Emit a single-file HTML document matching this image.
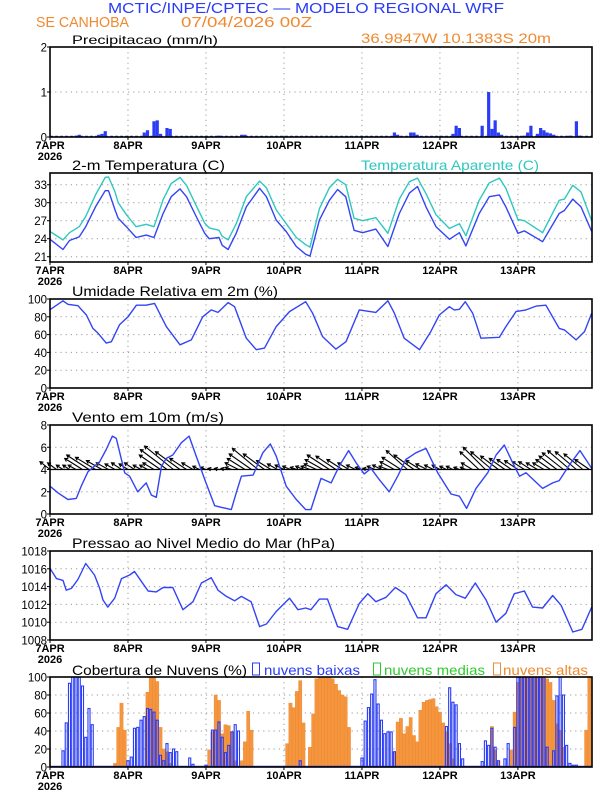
<!DOCTYPE html>
<html><head><meta charset="utf-8"><style>
html,body{margin:0;padding:0;background:#fff}
svg{display:block}
text{font-family:"Liberation Sans",sans-serif}
.tl{font-size:12px;fill:#000}
.tk{font-size:11px;fill:#000;font-weight:bold}
.yt{font-size:11.5px;fill:#000;text-anchor:end}
</style></head><body>
<svg id="chart" width="612" height="792" viewBox="0 0 612 792" xmlns="http://www.w3.org/2000/svg">
<rect x="0" y="0" width="612" height="792" fill="#fff"/>
<text x="108" y="13" fill="#2a3cf5" font-size="15" textLength="396" lengthAdjust="spacingAndGlyphs">MCTIC/INPE/CPTEC — MODELO REGIONAL WRF</text>
<text x="36" y="27" fill="#f08a30" font-size="15" textLength="93" lengthAdjust="spacingAndGlyphs">SE CANHOBA</text>
<text x="181" y="27" fill="#f08a30" font-size="15" textLength="131" lengthAdjust="spacingAndGlyphs">07/04/2026 00Z</text>
<text x="361" y="43" fill="#f08a30" font-size="14" textLength="190" lengthAdjust="spacingAndGlyphs">36.9847W 10.1383S 20m</text>
<text x="72" y="44" class="tl" font-size="14" textLength="146" lengthAdjust="spacingAndGlyphs">Precipitacao (mm/h)</text>
<text x="72" y="170" font-size="14" textLength="153" lengthAdjust="spacingAndGlyphs">2-m Temperatura (C)</text>
<text x="361" y="170" fill="#2ec8c0" font-size="14" textLength="178" lengthAdjust="spacingAndGlyphs">Temperatura Aparente (C)</text>
<text x="72" y="296" font-size="14" textLength="206" lengthAdjust="spacingAndGlyphs">Umidade Relativa em 2m (%)</text>
<text x="72" y="422" font-size="14" textLength="152" lengthAdjust="spacingAndGlyphs">Vento em 10m (m/s)</text>
<text x="72" y="548" font-size="14" textLength="263" lengthAdjust="spacingAndGlyphs">Pressao ao Nivel Medio do Mar (hPa)</text>
<text x="72" y="675" font-size="14" textLength="175" lengthAdjust="spacingAndGlyphs">Cobertura de Nuvens (%)</text>
<rect x="252.5" y="663" width="7" height="12" fill="none" stroke="#2a3cf5" stroke-width="1"/>
<text x="264" y="675" fill="#2a3cf5" font-size="14" textLength="96" lengthAdjust="spacingAndGlyphs">nuvens baixas</text>
<rect x="373.5" y="663" width="7" height="12" fill="none" stroke="#2ecc2e" stroke-width="1"/>
<text x="384" y="675" fill="#2ecc2e" font-size="14" textLength="101" lengthAdjust="spacingAndGlyphs">nuvens medias</text>
<rect x="493.5" y="663" width="7" height="12" fill="none" stroke="#f08a30" stroke-width="1"/>
<text x="503" y="675" fill="#f08a30" font-size="14" textLength="85" lengthAdjust="spacingAndGlyphs">nuvens altas</text>
</svg>
<script>
// ---------- data ----------
const dayLabels = ["7APR","8APR","9APR","10APR","11APR","12APR","13APR"];
const yearLabel = "2026";

const precipHours = [8,9,15,16,17,29,30,32,33,34,36,37,52,59,60,106,107,111,112,113,124,125,126,133,135,136,137,138,139,146,147,148,150,151,152,153,154,155,160,162,163];
const precipValues = [0.03,0.05,0.05,0.07,0.13,0.1,0.15,0.35,0.37,0.07,0.2,0.18,0.03,0.05,0.05,0.1,0.05,0.1,0.1,0.05,0.07,0.25,0.2,0.25,1.0,0.18,0.37,0.1,0.05,0.03,0.1,0.25,0.07,0.2,0.15,0.1,0.08,0.05,0.03,0.35,0.03];

const tempHours = [0,4,6,9,11,14,17,18,20,21,23.5,26.5,29.6,32,34.8,37.3,40,42,45,47.6,49,52,53,54.8,57.3,60.4,64.5,66.6,69.6,72.7,75.8,78.7,80,82.9,86,88.5,91,93.6,96.2,100.3,104,107.5,110.6,113.1,115.7,118.8,122.9,126,128,132.1,135.2,138.3,140.3,144,146,151.6,156.7,158.3,160.9,163.4,166.7];
const tempValues = [23.9,22.2,23.7,24.3,26,29.3,32,32,28.8,27.4,26,24.2,24.6,24.2,28.2,31,32.3,31,27.7,24.9,24,24.2,22.9,22.2,24.9,29.3,32.4,31,27.1,25.2,22.7,21.4,21.1,27.1,30.4,32.2,31,25.4,25,25.6,22.7,28.2,31.6,32.7,29.3,26,23.9,25,22.8,28.2,31,31.3,29.3,24.9,25.3,23.5,28.2,28.7,30.6,29.3,25.2];
const apparentValues = [25.2,23.8,25,26,27.7,31.3,34.2,34.3,31.8,30,28,26,26.4,26,30.5,33.2,34.2,32.9,29.5,26.6,25.8,25.4,24.4,23.8,26.5,31,33.6,32.5,28.8,26.5,24.2,23,22.6,29,32.5,33.9,33,27.4,27,27.5,24.9,30.6,33.5,34.1,31.5,28,25.7,26.5,24.5,30.4,33.3,34.1,32.4,27.2,27,25,30.4,30.6,32.9,31.8,27];

const rhHours = [0,4,5.5,8.6,11.2,13.2,14.8,17.3,18.9,21.4,24,26.6,29.6,32.2,35.8,40,43.5,47,49.6,51.7,54.8,56.8,60.4,63.5,66,69.6,73.7,78.7,80.8,83.9,88,91.1,95.2,100.3,104,106,109,113.7,117.2,119.8,122.9,124.4,126,127.8,130.1,132.6,138.3,140.3,143.4,146.5,149.6,152.6,156.7,158.3,161.9,164.5,166.7];
const rhValues = [88,98,94,92.5,82,67,61.5,50.4,52,71,80,93,93,95,69,48.5,54,80,87.7,85,96,91.4,56,43,44.8,69,85.8,97,84,57.8,43.7,52,87.7,85,98,84,56,43,63.4,82,91.4,87.7,88.4,97,84,56,57,69,85.8,87.7,92,93,67,65.3,54,63.4,84];

const windHours = [0,2.5,5.5,8.1,9.6,11.7,15.3,17.3,19.2,20.4,23,24.5,27,29.6,31.2,32.7,34.3,35.8,37.8,40.4,42.8,45,48,50.7,52.7,55.8,57.3,58.9,62.5,65.5,67.8,69.6,72.7,75.8,78.7,80.3,83.4,86.5,89,91.9,94.2,96.7,98.8,101.3,104.4,107,109.5,112.6,115.7,119.3,123.4,126,128.2,131.1,134.7,137.3,139.8,142.4,144.5,146.5,151.6,154.7,156.7,159.8,163.1,166.7];
const windSpeed = [2.5,1.9,1.3,1.4,2.5,3.8,4.7,5.8,7,6.8,3.7,3.4,2,2.8,1.7,1.5,4.3,5,5.3,6.4,7,5.2,2.8,0.75,0.6,0.4,1.9,3.4,3.5,5.5,6.3,5.2,2.5,1.3,0.4,0.4,3.2,2.8,4.3,5.7,4.6,3.6,4.1,3.1,2,3.4,4.9,5.5,5.9,3.7,1.8,1.6,0.5,2.3,3.7,5.3,6.2,4.6,3.4,3.7,2.3,2.8,3,4.4,5.7,4.1];
// wind vectors every 2 h starting at 0 h (m/s components, drawn from the 4 m/s line)
const windU = [-0.9,-0.8,-0.6,-0.6,-0.7,-1.6,-2.0,-1.8,-1.4,-1.1,-0.9,-0.9,
 -0.8,-0.9,-0.7,-0.7,-1.0,-1.9,-2.4,-2.6,-2.2,-1.5,-1.0,-0.6,
 -0.5,-0.4,-0.4,-0.4,-0.6,-1.2,-1.6,-2.0,-2.3,-1.9,-1.3,-0.9,
 -0.8,-0.7,-0.6,-0.7,-0.8,-1.1,-1.6,-2.0,-1.8,-1.4,-1.0,-0.8,
 -0.6,-0.5,-0.7,-0.8,-0.8,-1.3,-1.7,-1.9,-1.8,-1.3,-1.0,-0.8,
 -0.7,-0.6,-0.6,-0.5,-0.5,-1.0,-1.7,-2.0,-1.9,-1.6,-1.4,-1.3,
 -1.2,-1.1,-1.1,-1.0,-1.0,-1.3,-1.6,-1.9,-2.0,-1.9,-1.7,-1.3];
const windV = [0.7,0.6,0.4,0.4,0.4,1.0,1.3,1.1,0.8,0.6,0.5,0.6,
 0.5,0.6,0.4,0.4,0.6,1.3,1.8,2.1,1.6,1.0,0.6,0.3,
 0.2,0.1,0.1,0.1,0.2,0.6,1.0,1.4,1.9,1.4,0.8,0.5,
 0.4,0.3,0.2,0.3,0.3,0.5,0.9,1.3,1.2,0.9,0.6,0.4,
 0.2,0.1,0.3,0.4,0.3,0.7,1.1,1.7,1.3,0.8,0.5,0.4,
 0.4,0.3,0.3,0.2,0.2,0.6,1.6,2.0,1.6,1.2,1.0,0.9,
 0.8,0.7,0.7,0.6,0.6,0.9,1.2,1.5,1.7,1.6,1.4,0.9];

const presHours = [0,2,4,5,6.6,8.6,11,13.7,15.3,16.3,17.8,19.9,22,24.5,26,28.1,30.2,32.7,34.8,37.8,40.9,44,46.6,49.6,51.7,54.3,56.8,58.9,61.9,64.5,66.6,69.6,73.7,76.3,78.7,80.3,82.9,85.4,88.5,91.6,95.2,97.8,100.3,103.4,106.3,109.5,113.1,115.7,118.8,121.9,124.9,127.8,130.9,134.2,137.3,140.3,142.9,146,148.5,151.6,154.7,157.3,160.9,163.7,166.7];
const presValues = [1016.05,1014.9,1014.7,1013.6,1013.8,1014.8,1016.6,1015.3,1013.8,1012.5,1011.7,1012.7,1014.9,1015.3,1015.7,1014.6,1013.5,1013.4,1013.9,1013.9,1011.4,1012.3,1014.4,1015,1013.6,1012.9,1012.4,1012.9,1012.3,1009.5,1009.8,1011.2,1012.7,1011.4,1011.6,1011.4,1012.6,1012.6,1009.5,1009.2,1012.1,1013.2,1012.3,1012.8,1013.9,1013.1,1010.5,1010.5,1013.2,1014.2,1013.1,1012.7,1014.4,1012.5,1010,1011,1013.2,1013.5,1011.7,1011.6,1013,1011.9,1008.9,1009.2,1011.7];

const lowCloudHours = [4,5,6,7,8,9,10,11,12,13,24,25,26,27,28,29,30,31,32,33,34,35,36,37,38,39,43,44,48,50,51,52,53,54,55,56,57,58,77,96,97,98,99,100,101,102,103,104,105,106,122,123,124,125,126,127,133,134,135,136,137,138,140,141,143,144,145,146,147,148,149,150,151,152,153,155,156,157,158,159,160,161,162];
const lowCloudValues = [18,49,93,100,100,100,90,33,65,47,7,11,43,44,52,56,65,64,61,52,13,7,26,16,20,17,10,3,2,41,41,50,33,16,24,39,47,40,7,10,51,66,81,97,70,52,37,39,39,17,45,88,72,69,26,9,6,29,24,43,22,7,9,26,44,100,100,100,100,100,100,100,100,100,22,18,79,100,80,24,4,2,2];
const highCloudHours = [20,21,22,23,30,31,32,33,34,35,36,37,49,50,51,52,53,54,55,56,57,59,60,61,62,73,74,75,76,77,78,80,81,82,83,84,85,86,87,88,89,90,91,92,106,107,108,109,110,111,112,113,114,115,116,117,118,119,120,121,122,123,124,136,137,138,142,143,144,145,146,147,148,149,150,151,152,153,154,155,156,157,158,165,166];
const highCloudValues = [4,44,71,41,83,100,100,95,44,20,17,4,19,39,80,74,37,47,46,39,7,7,28,62,41,26,71,66,84,96,49,22,59,98,100,100,100,100,98,92,85,80,78,44,17,50,54,37,45,55,35,28,63,72,74,75,76,67,61,49,39,26,9,45,19,7,19,61,94,100,100,100,100,100,100,100,100,98,94,74,48,41,22,41,100];

// ---------- layout ----------
const X0 = 50, X1 = 592, HMAX = 166.8;
function xOf(h){ return X0 + (X1 - X0) * h / HMAX; }
function yScale(p){ return v => p.bottom - (v - p.min) / (p.max - p.min) * (p.bottom - p.top); }
const svg = document.getElementById('chart');
const NS = 'http://www.w3.org/2000/svg';
function mk(tag, attrs){ const e = document.createElementNS(NS, tag); for (const k in attrs) e.setAttribute(k, attrs[k]); svg.appendChild(e); return e; }

const panels = {
  precip: {top:47, bottom:137, min:0, max:2, ticks:[0,1,2], name:'precip'},
  temp: {top:173, bottom:262, min:20.12, max:34.95, ticks:[21,24,27,30,33], name:'temp'},
  rh: {top:299, bottom:388, min:0, max:100, ticks:[0,20,40,60,80,100], name:'humidity'},
  wind: {top:425, bottom:514, min:0, max:8, ticks:[0,2,4,6,8], name:'wind'},
  pres: {top:551, bottom:640, min:1008, max:1018, ticks:[1008,1010,1012,1014,1016,1018], name:'pressure'},
  cloud: {top:677, bottom:767, min:0, max:100, ticks:[0,20,40,60,80,100], name:'cloud'}
};

function drawAxes(p){
  const y = yScale(p);
  p.ticks.forEach(t => {
    if (t !== p.min && t !== p.max) {
      const g = mk('line', {x1:X0, x2:X1, y1:y(t), y2:y(t), stroke:'#9a9a9a', 'stroke-width':1, 'stroke-dasharray':'1.2 4'});
      
      
    }
    const tm = mk('line', {x1:X0-3, x2:X0, y1:y(t), y2:y(t), stroke:'#000', 'stroke-width':1});
    
    
    const lb = mk('text', {x:X0-3, y:y(t)+4.5, class:'yt'});
    lb.textContent = String(t);
    
    
  });
  dayLabels.forEach((d, i) => {
    const xx = xOf(i*24);
    if (i > 0) {
      const g = mk('line', {x1:xx, x2:xx, y1:p.top, y2:p.bottom, stroke:'#9a9a9a', 'stroke-width':1, 'stroke-dasharray':'1.2 4'});
      
      
    }
    const tm = mk('line', {x1:xx, x2:xx, y1:p.bottom, y2:p.bottom+3, stroke:'#000', 'stroke-width':1});
    
    
    const lb = mk('text', {x:xx, y:p.bottom+12, class:'tk', 'text-anchor':'middle'});
    lb.textContent = d;
    
    
  });
  const yr = mk('text', {x:X0, y:p.bottom+23, class:'tk', 'text-anchor':'middle'});
  yr.textContent = yearLabel;
  
  
}
function drawFrame(p){
  const f = mk('rect', {x:X0, y:p.top, width:X1-X0, height:p.bottom-p.top, fill:'none', stroke:'#000', 'stroke-width':1.6});
  
  
}
function drawLine(p, hours, vals, color, name){
  const y = yScale(p);
  const pts = hours.map((h, i) => xOf(h).toFixed(1) + ',' + y(vals[i]).toFixed(1)).join(' ');
  const l = mk('polyline', {points:pts, fill:'none', stroke:color, 'stroke-width':1.4, 'stroke-linejoin':'round'});
  
  
}

Object.values(panels).forEach(drawAxes);

// precipitation
(function(){
  const p = panels.precip, y = yScale(p);
  const base = mk('line', {x1:X0, x2:X1, y1:p.bottom-0.5, y2:p.bottom-0.5, stroke:'#2a3cf5', 'stroke-width':1.5, 'stroke-dasharray':'3 2'});
  
  
  precipHours.forEach((h, i) => {
    const r = mk('rect', {x:xOf(h)-1.6, y:y(precipValues[i]), width:3.2, height:p.bottom - y(precipValues[i]), fill:'#2a3cf5'});
    
    
  });
})();

drawLine(panels.temp, tempHours, apparentValues, '#2ec8c0', 'apparent-temperature-line');
drawLine(panels.temp, tempHours, tempValues, '#3344f5', 'temperature-line');
drawLine(panels.rh, rhHours, rhValues, '#3344f5', 'humidity-line');

// wind arrows
(function(){
  const p = panels.wind, y = yScale(p);
  const unit = (p.bottom - p.top) / (p.max - p.min);
  const by = y(4);
  windU.forEach((u, i) => {
    const bx = xOf(i*2);
    const tx = bx + u*unit, ty = by - windV[i]*unit;
    const len = Math.hypot(tx-bx, ty-by) || 1;
    const ux = (tx-bx)/len, uy = (ty-by)/len;
    const hl = 3.5;
    const a1x = tx - hl*(ux*0.87 - uy*0.5), a1y = ty - hl*(uy*0.87 + ux*0.5);
    const a2x = tx - hl*(ux*0.87 + uy*0.5), a2y = ty - hl*(uy*0.87 - ux*0.5);
    const a = mk('path', {d:`M${bx.toFixed(1)},${by.toFixed(1)}L${tx.toFixed(1)},${ty.toFixed(1)}M${a1x.toFixed(1)},${a1y.toFixed(1)}L${tx.toFixed(1)},${ty.toFixed(1)}L${a2x.toFixed(1)},${a2y.toFixed(1)}`, fill:'none', stroke:'#000', 'stroke-width':1.1});
    
    
  });
  const bl = mk('line', {x1:X0, x2:X1, y1:by, y2:by, stroke:'#000', 'stroke-width':1.2});
  
  
})();
drawLine(panels.wind, windHours, windSpeed, '#3344f5', 'wind-speed-line');
drawLine(panels.pres, presHours, presValues, '#3344f5', 'pressure-line');

// clouds
(function(){
  const p = panels.cloud, y = yScale(p);
  const w = (X1 - X0) / HMAX;
  highCloudHours.forEach((h, i) => {
    const r = mk('rect', {x:xOf(h)-w/2, y:y(highCloudValues[i]), width:w, height:p.bottom - y(highCloudValues[i]), fill:'#f5963f', stroke:'#e8842a', 'stroke-width':0.4});
    
    
  });
  lowCloudHours.forEach((h, i) => {
    const r = mk('rect', {x:xOf(h)-w/2+0.6, y:y(lowCloudValues[i]), width:w-1.2, height:p.bottom - y(lowCloudValues[i]), fill:'none', stroke:'#2a3cf5', 'stroke-width':1.1});
    
    
  });
  const base = mk('line', {x1:X0, x2:X1, y1:p.bottom-0.5, y2:p.bottom-0.5, stroke:'#2a3cf5', 'stroke-width':1.5});
  
  
})();

Object.values(panels).forEach(drawFrame);
</script>
</body></html>
